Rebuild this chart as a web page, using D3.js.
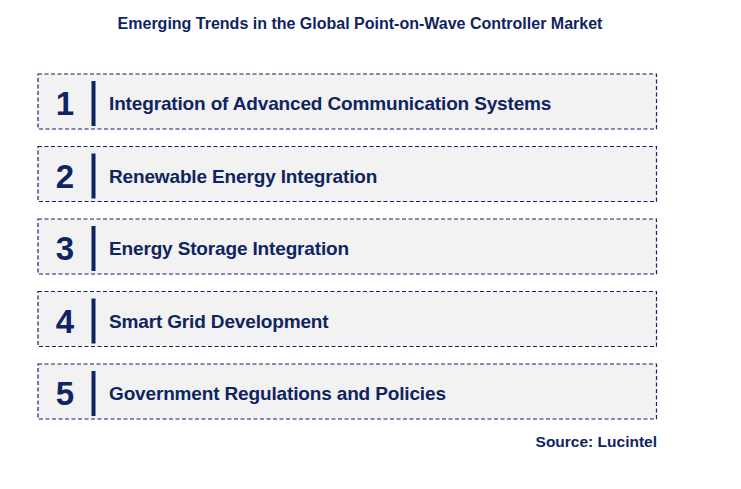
<!DOCTYPE html>
<html><head><meta charset="utf-8">
<script src="https://cdn.jsdelivr.net/npm/d3@7"></script>
<style>html,body{margin:0;padding:0;background:#fff;}svg{display:block;}</style>
</head><body>
<script>
const titleText = "Emerging Trends in the Global Point-on-Wave Controller Market";
const sourceText = "Source: Lucintel";
const ranks = [1, 2, 3, 4, 5];
const trends = [
  "Integration of Advanced Communication Systems",
  "Renewable Energy Integration",
  "Energy Storage Integration",
  "Smart Grid Development",
  "Government Regulations and Policies"
];

const W = 741, H = 489;
const navy = "#0f2461";
const svg = d3.select("body").append("svg").attr("width", W).attr("height", H);

svg.append("text").attr("x", 360).attr("y", 28.5).attr("text-anchor", "middle")
  .attr("font-family", "Liberation Sans, Arial, sans-serif").attr("font-weight", "bold")
  .attr("font-size", 16).attr("fill", navy).text(titleText);

const y = d3.scaleBand().domain(ranks).range([74, 419]).paddingInner(0.2414);
const x0 = 38, x1 = 656.5;

const g = svg.selectAll("g.row").data(ranks).join("g").attr("class", "row")
  .attr("transform", d => `translate(0,${y(d)})`);

g.append("rect").attr("x", x0).attr("y", 0).attr("width", x1 - x0).attr("height", y.bandwidth())
  .attr("fill", "#f2f2f2").attr("stroke", navy).attr("stroke-width", 1.2)
  .attr("stroke-dasharray", "4,2.5");

g.append("text").attr("x", 65).attr("y", y.bandwidth() / 2 + 14)
  .attr("text-anchor", "middle").attr("font-family", "Liberation Sans, Arial, sans-serif")
  .attr("font-weight", "bold").attr("font-size", 33).attr("fill", navy).text(d => d);

g.append("rect").attr("x", 91.5).attr("y", 7).attr("width", 4).attr("height", y.bandwidth() - 10)
  .attr("fill", navy);

g.append("text").attr("x", 109).attr("y", y.bandwidth() / 2 + 9)
  .attr("font-family", "Liberation Sans, Arial, sans-serif").attr("font-weight", "bold")
  .attr("font-size", 19).attr("fill", navy).attr("letter-spacing", -0.15)
  .text((d, i) => trends[i]);

svg.append("text").attr("x", 657).attr("y", 447).attr("text-anchor", "end")
  .attr("font-family", "Liberation Sans, Arial, sans-serif").attr("font-weight", "bold")
  .attr("font-size", 15.5).attr("fill", navy).text(sourceText);
</script>
</body></html>
